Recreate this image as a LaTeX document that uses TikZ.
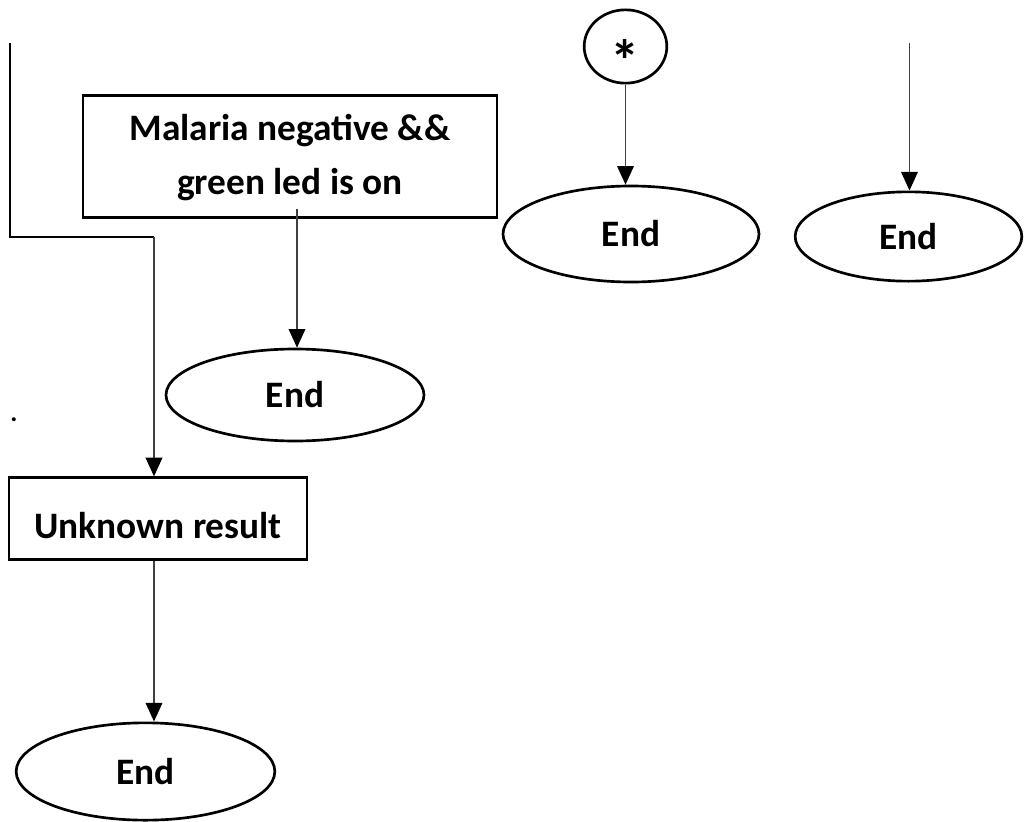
\documentclass[tikz,border=0pt]{standalone}
\usepackage{fontspec}
\setmainfont{Carlito}
\usetikzlibrary{arrows.meta,shapes.geometric,calc}

\tikzset{
  shapeline/.style={draw=black, line width=2pt},
  procbox/.style={shapeline, line width=2.2pt, rectangle, inner sep=0pt,
    font=\fontsize{28}{40.5}\selectfont\bfseries},
  endoval/.style={shapeline, ellipse, inner sep=0pt,
    font=\fontsize{28}{40.5}\selectfont\bfseries},
  conn/.style={draw=black!75, line width=1.1pt,
    -{Triangle[length=14pt,width=12.5pt,color=black]}},
  leadline/.style={draw=black, line width=1.6pt},
}

\begin{document}
\begin{tikzpicture}[x=0.75pt, y=-0.75pt]
  \useasboundingbox (0,0) rectangle (1024,821);

  % decision boxes
  \node[procbox, minimum width=310.5pt, minimum height=92pt] (mal) at (290,156.5)
    {\raisebox{-4.3pt}{\begin{tabular}{@{}c@{}}Malaria negative \&\&\\green led is on\end{tabular}}};
  \node[procbox, minimum width=223.5pt, minimum height=61pt,
        text height=29.5pt, text depth=0pt] (unk) at (158,518.5) {Unknown result};

  % off-page connector
  \node[endoval, minimum width=62pt, minimum height=55pt,
        font=\fontsize{44}{48}\selectfont\bfseries] (star) at (625.5,46.5)
    {\smash{\raisebox{-26.6pt}{*}}};

  % terminators
  \node[endoval, minimum width=192pt, minimum height=72pt] (endA) at (631,234) {End};
  \node[endoval, minimum width=170pt, minimum height=67pt] (endB) at (908.5,236.5) {End};
  \node[endoval, minimum width=193.5pt, minimum height=69pt] (endC) at (295,395) {End};
  \node[endoval, minimum width=194pt, minimum height=73pt] (endD) at (145.5,771.5) {End};

  % stray full stop
  \node[inner sep=0pt, font=\fontsize{20}{22}\selectfont\bfseries] (dot) at (14,420) {.};

  % free line ends and bends
  \coordinate (topL) at (10,43);
  \coordinate (bendL) at (154,237);
  \coordinate (topB) at (909.5,43);
  \coordinate (malOut) at ($(mal.south -| endC.north)+(2,-10)$);

  % connectors
  \draw[leadline] (topL) |- (bendL);
  \draw[conn] (bendL) -- (bendL |- unk.north);
  \draw[conn] (bendL |- unk.south) -- (bendL |- endD.north);
  \draw[conn] (malOut) -- (malOut |- endC.north);
  \draw[conn] (star.south) -- (star.south |- endA.north);
  \draw[conn] (topB) -- (topB |- endB.north);
\end{tikzpicture}
\end{document}
